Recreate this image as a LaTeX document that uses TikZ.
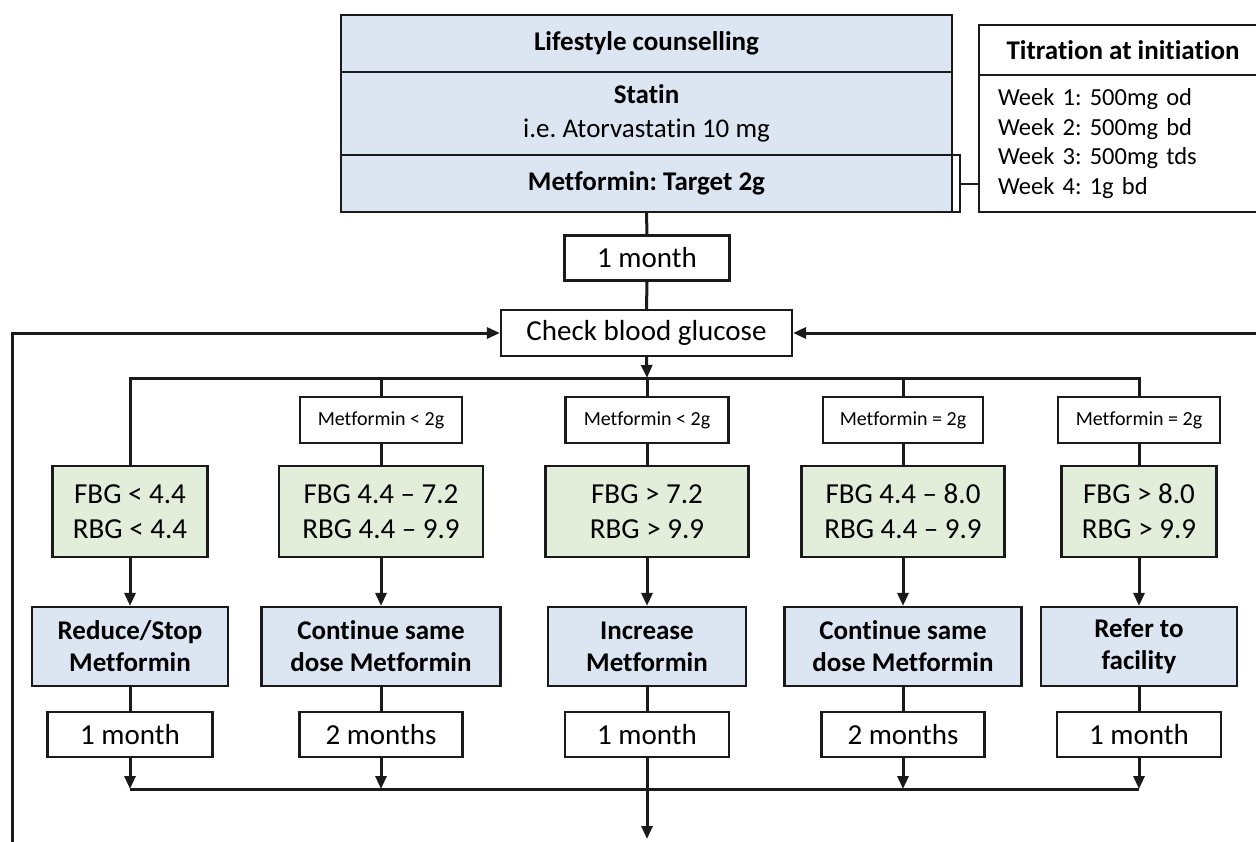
\documentclass[tikz,border=0pt]{standalone}
\usepackage{fontspec}
\setmainfont{Carlito}[Ligatures=NoCommon]
\usetikzlibrary{arrows.meta}
\definecolor{bluefill}{HTML}{DCE6F2}
\definecolor{greenfill}{HTML}{E3EEDA}
\definecolor{ink}{HTML}{1A1A1A}
\frenchspacing
\begin{document}
\frenchspacing
\begin{tikzpicture}[x=1pt,y=-1pt,
  basebox/.style={draw=ink, line width=2.2pt, inner sep=0pt, align=center},
  topcell/.style={basebox, fill=bluefill, minimum width=611pt, font=\fontsize{27}{34}\selectfont},
  titcell/.style={basebox, fill=white, minimum width=288pt},
  cond/.style={basebox, fill=white, minimum height=46pt, font=\fontsize{20}{24}\selectfont},
  glucose/.style={basebox, fill=greenfill, minimum height=91pt, font=\fontsize{29}{35}\selectfont},
  action/.style={basebox, fill=bluefill, minimum height=79pt, font=\bfseries\fontsize{27}{32}\selectfont},
  period/.style={basebox, fill=white, minimum height=45pt, font=\fontsize{29}{35}\selectfont},
  conn/.style={draw=ink, line width=3pt},
  arr/.style={conn, -{Triangle[length=13pt,width=11pt]}}
]
\useasboundingbox (0,0) rectangle (1256,841);
\clip (0,0) rectangle (1256,841);
\fill[white] (0,0) rectangle (1256,841);

% top block
\node[topcell, minimum height=57pt, font=\bfseries\fontsize{27}{34}\selectfont] (life) at (646.5,43.5) {Lifestyle counselling};
\node[topcell, minimum height=83pt] (statin) at (646.5,113.5) {\textbf{Statin}\\i.e. Atorvastatin 10 mg};
\node[topcell, minimum height=57pt, font=\bfseries\fontsize{27}{34}\selectfont] (metf) at (646.5,183.5) {Metformin: Target 2g};

% bracket and titration
\node[draw=ink, line width=1.5pt, fill=white, minimum width=8pt, minimum height=57pt, inner sep=0pt] (brk) at (956,183.5) {};
\node[titcell, minimum height=50pt, font=\bfseries\fontsize{27}{32}\selectfont] (tithead) at (1123,50) {Titration at initiation};
\node[titcell, minimum height=137pt, text width=250pt, align=left, font=\fontsize{24.5}{29.5}\selectfont] (titbody) at (1123,143.5) {Week 1: 500mg od\\Week 2: 500mg bd\\Week 3: 500mg tds\\Week 4: 1g bd};
\draw[draw=ink, line width=2pt] (brk.east) -- (brk.east -| titbody.west);

% first steps
\node[period, minimum width=165pt] (m0) at (647,258) {1 month};
\node[period, minimum width=291pt, minimum height=46pt] (chk) at (646.5,333) {Check blood glucose};

% conditions
\node[cond, minimum width=162pt] (c2) at (381,420) {Metformin < 2g};
\node[cond, minimum width=163pt] (c3) at (647,420) {Metformin < 2g};
\node[cond, minimum width=160pt] (c4) at (903,420) {Metformin = 2g};
\node[cond, minimum width=162pt] (c5) at (1139,420) {Metformin = 2g};

% glucose ranges
\node[glucose, minimum width=155pt] (g1) at (130,511.5) {FBG < 4.4\\RBG < 4.4};
\node[glucose, minimum width=204pt] (g2) at (381,511.5) {FBG 4.4 – 7.2\\RBG 4.4 – 9.9};
\node[glucose, minimum width=203pt] (g3) at (647,511.5) {FBG > 7.2\\RBG > 9.9};
\node[glucose, minimum width=203pt] (g4) at (903,511.5) {FBG 4.4 – 8.0\\RBG 4.4 – 9.9};
\node[glucose, minimum width=155pt] (g5) at (1139,511.5) {FBG > 8.0\\RBG > 9.9};

% actions
\node[action, minimum width=196pt] (a1) at (130,646.5) {Reduce/Stop\\Metformin};
\node[action, minimum width=239pt] (a2) at (381,646.5) {Continue same\\dose Metformin};
\node[action, minimum width=198pt] (a3) at (647,646.5) {Increase\\Metformin};
\node[action, minimum width=237pt] (a4) at (903,646.5) {Continue same\\dose Metformin};
\node[action, minimum width=196pt] (a5) at (1139,646.5) {Refer to\\facility};

% periods
\node[period, minimum width=165pt] (d1) at (130,734.5) {1 month};
\node[period, minimum width=163pt] (d2) at (381,734.5) {2 months};
\node[period, minimum width=164pt] (d3) at (647,734.5) {1 month};
\node[period, minimum width=163pt] (d4) at (903,734.5) {2 months};
\node[period, minimum width=164pt] (d5) at (1139,734.5) {1 month};

% junction coordinates
\coordinate (t1) at (130,378);
\coordinate (t3) at (647,378);
\coordinate (t5) at (1139,378);
\coordinate (b1) at (130,789);
\coordinate (b5) at (1139,789);
\coordinate (bot) at (647,839);
\coordinate (lb) at (12,860);
\coordinate (rb) at (1270,333);

% connectors top
\draw[conn] (metf.south) -- (m0.north);
\draw[conn] (m0.south) -- (chk.north);
\draw[arr] (lb) |- (chk.west);
\draw[arr] (rb) -- (chk.east);
\draw[arr] (chk.south) -- (t3);
\draw[conn] (g1.north) -- (t1) -- (t5) -- (c5.north);
\draw[conn] (c2.north |- t1) -- (c2.north);
\draw[conn] (t3) -- (c3.north);
\draw[conn] (c4.north |- t1) -- (c4.north);
\draw[conn] (c2.south) -- (g2.north);
\draw[conn] (c3.south) -- (g3.north);
\draw[conn] (c4.south) -- (g4.north);
\draw[conn] (c5.south) -- (g5.north);

% glucose -> action
\foreach \i in {1,...,5} {
  \draw[arr] (g\i.south) -- (a\i.north);
  \draw[conn] (a\i.south) -- (d\i.north);
}
% periods -> bottom bus
\draw[conn] (b1) -- (b5);
\draw[arr] (d1.south) -- (b1);
\draw[arr] (d2.south) -- (d2.south |- b1);
\draw[arr] (d4.south) -- (d4.south |- b1);
\draw[arr] (d5.south) -- (b5);
\draw[arr] (d3.south) -- (bot);
\end{tikzpicture}
\end{document}
